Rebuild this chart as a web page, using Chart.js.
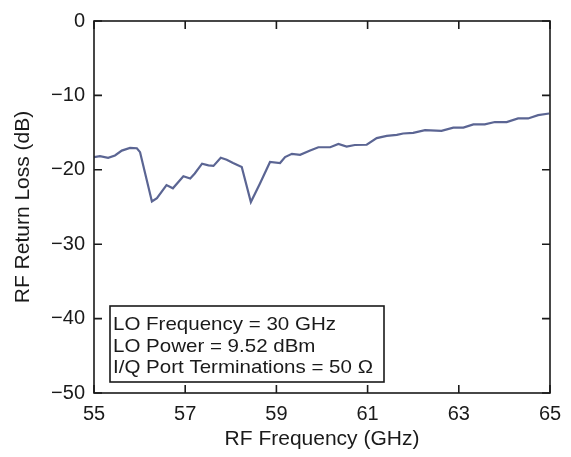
<!DOCTYPE html>
<html><head><meta charset="utf-8">
<script src="https://cdn.jsdelivr.net/npm/chart.js@4/dist/chart.umd.min.js"></script>
<style>html,body{margin:0;padding:0;background:#fff}#wrap{width:571px;height:457px}</style>
</head><body><div id="wrap"><canvas id="c" width="571" height="457"></canvas></div>
<script>
const frequencies = [55.0,55.13,55.31,55.46,55.61,55.79,55.94,56.01,56.27,56.38,56.59,56.73,56.96,57.11,57.21,57.37,57.51,57.62,57.78,57.91,58.05,58.24,58.44,58.64,58.86,59.08,59.19,59.34,59.52,59.74,59.92,60.18,60.36,60.54,60.72,60.98,61.2,61.42,61.64,61.78,62.0,62.26,62.62,62.88,63.1,63.32,63.57,63.79,64.05,64.3,64.52,64.74,64.98];
const returnLoss = [-18.29,-18.16,-18.39,-18.08,-17.42,-17.06,-17.10,-17.63,-24.25,-23.81,-22.05,-22.49,-20.86,-21.16,-20.50,-19.18,-19.40,-19.48,-18.39,-18.65,-19.09,-19.62,-24.34,-21.83,-18.95,-19.09,-18.29,-17.86,-17.99,-17.42,-16.97,-16.97,-16.53,-16.89,-16.67,-16.63,-15.74,-15.44,-15.30,-15.12,-15.04,-14.68,-14.77,-14.33,-14.33,-13.89,-13.89,-13.58,-13.58,-13.10,-13.10,-12.66,-12.43];
const xTickValues = [55,57,59,61,63,65];
const yTickValues = [0,-10,-20,-30,-40,-50];
const legendLines = ['LO Frequency = 30 GHz','LO Power = 9.52 dBm','I/Q Port Terminations = 50 \u03A9'];

const FONT = '"Liberation Sans", Arial, Helvetica, sans-serif';
const INK = '#1a1a1a';

const framePlugin = {
  id: 'frame',
  afterDraw(chart) {
    const {ctx, chartArea: {left, right, top, bottom}, scales: {x, y}} = chart;
    ctx.save();
    ctx.strokeStyle = INK;
    ctx.lineWidth = 1.6;
    ctx.strokeRect(left, top, right - left, bottom - top);
    ctx.beginPath();
    xTickValues.forEach(v => {
      const px = x.getPixelForValue(v);
      ctx.moveTo(px, bottom); ctx.lineTo(px, bottom - 8);
      ctx.moveTo(px, top); ctx.lineTo(px, top + 8);
    });
    yTickValues.forEach(v => {
      const py = y.getPixelForValue(v);
      ctx.moveTo(left, py); ctx.lineTo(left + 8, py);
      ctx.moveTo(right, py); ctx.lineTo(right - 8, py);
    });
    ctx.stroke();
    // annotation box
    const bx = left + 16, bw = 274, bh = 76, by = bottom - 11 - bh;
    ctx.fillStyle = '#fff';
    ctx.fillRect(bx, by, bw, bh);
    ctx.lineWidth = 1.6;
    ctx.strokeRect(bx, by, bw, bh);
    ctx.fillStyle = INK;
    ctx.font = '19px ' + FONT;
    ctx.textBaseline = 'alphabetic';
    ctx.textAlign = 'left';
    legendLines.forEach((t, i) => {
      ctx.save();
      ctx.translate(bx + 3, by + 24 + i * 21.5);
      ctx.scale(1.08, 1);
      ctx.fillText(t, 0, 0);
      ctx.restore();
    });
    ctx.restore();
  }
};

const fmt = v => (v < 0 ? '\u2212' + Math.abs(v) : String(v));

new Chart(document.getElementById('c'), {
  type: 'line',
  data: {
    datasets: [{
      data: frequencies.map((f, i) => ({x: f, y: returnLoss[i]})),
      borderColor: '#5b6593',
      borderWidth: 2.2,
      pointRadius: 0,
      tension: 0,
      fill: false
    }]
  },
  options: {
    responsive: false,
    animation: false,
    devicePixelRatio: 1,
    layout: {padding: {left: 0, right: 21, top: 15, bottom: 0}},
    plugins: {legend: {display: false}, tooltip: {enabled: false}},
    scales: {
      x: {
        type: 'linear', min: 55, max: 65,
        afterBuildTicks: s => { s.ticks = xTickValues.map(v => ({value: v})); },
        afterFit: s => { s.height = 64; },
        grid: {display: false, drawTicks: false},
        border: {display: false},
        ticks: {color: INK, font: {family: FONT, size: 20}, padding: 9, maxRotation: 0, autoSkip: false, callback: v => fmt(v)},
        title: {display: true, text: 'RF Frequency (GHz)', color: INK, font: {family: FONT, size: 21, lineHeight: 1.2}, padding: {top: 0, bottom: 5}}
      },
      y: {
        type: 'linear', min: -50, max: 0,
        afterBuildTicks: s => { s.ticks = yTickValues.map(v => ({value: v})); },
        afterFit: s => { s.width = 94; },
        grid: {display: false, drawTicks: false},
        border: {display: false},
        ticks: {color: INK, font: {family: FONT, size: 20}, padding: 9, autoSkip: false, callback: v => fmt(v)},
        title: {display: true, text: 'RF Return Loss (dB)', color: INK, font: {family: FONT, size: 21, lineHeight: 1.2}, padding: {top: 11, bottom: 0}}
      }
    }
  },
  plugins: [framePlugin]
});
</script>
</body></html>
